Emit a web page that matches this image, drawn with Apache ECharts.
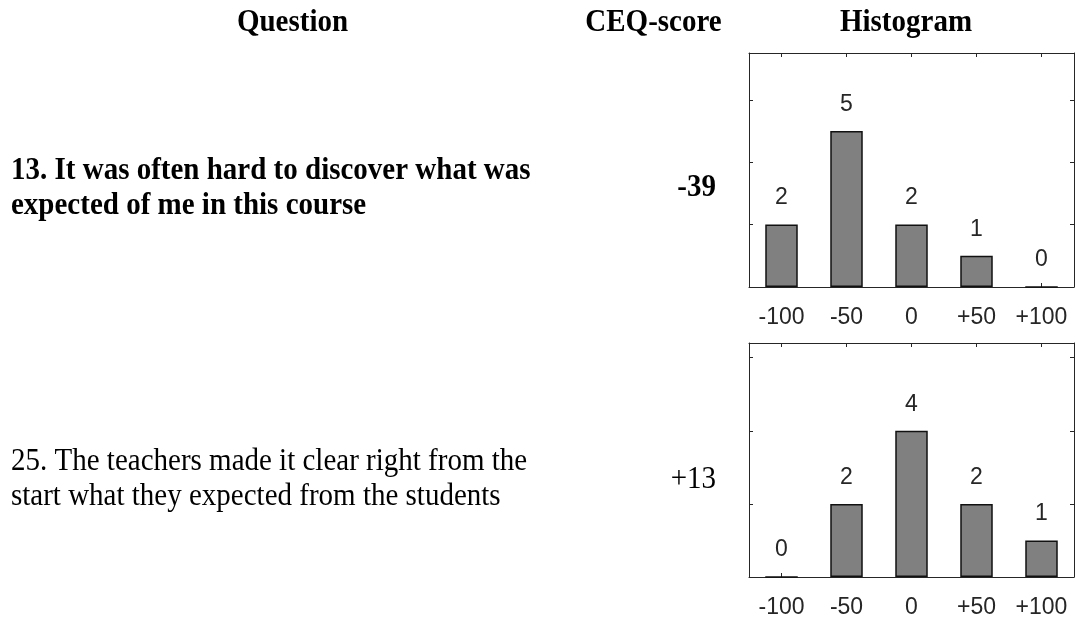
<!DOCTYPE html>
<html>
<head>
<meta charset="utf-8">
<script src="https://cdn.jsdelivr.net/npm/echarts@6/dist/echarts.min.js"></script>
<style>
  html, body { margin: 0; padding: 0; background: #ffffff; }
  #chart { width: 1075px; height: 624px; }
</style>
</head>
<body>
<div id="chart"></div>
<script>
// ---- data ----
const headers = ['Question', 'CEQ-score', 'Histogram'];
const categories = ['-100', '-50', '0', '+50', '+100'];
const q13Counts = [2, 5, 2, 1, 0];
const q25Counts = [0, 2, 4, 2, 1];
const q13Lines = ['13. It was often hard to discover what was', 'expected of me in this course'];
const q25Lines = ['25. The teachers made it clear right from the', 'start what they expected from the students'];
const ceqScores = ['-39', '+13'];
const yMaxes = [7.5, 6.4];
const yTickStep = 2;

// ---- layout / style ----
const axisColor = '#262626';
const serif = '"Liberation Serif", "Times New Roman", serif';
const sans = '"Liberation Sans", Arial, Helvetica, sans-serif';
const textStretch = 1.12;
const grids = [
  { left: 749, top: 53, width: 325, height: 234 },
  { left: 749, top: 343, width: 325, height: 234 }
];
const countsList = [q13Counts, q25Counts];
const questionLines = [q13Lines, q25Lines];
const questionBold = [true, false];
const lineYs = [[171, 206], [461, 496]];
const scoreYs = [188, 479];

const xAxes = [], yAxes = [], series = [];
grids.forEach((g, i) => {
  const lineStyle = { color: axisColor, width: 1 };
  xAxes.push({
    type: 'category', gridIndex: i, position: 'bottom', data: categories,
    boundaryGap: true,
    axisLine: { show: true, lineStyle },
    axisTick: { show: true, inside: true, length: 4, alignWithLabel: true, lineStyle },
    axisLabel: { show: true, interval: 0, margin: 19, fontSize: 23, fontFamily: sans, color: axisColor },
    splitLine: { show: false }
  });
  xAxes.push({
    type: 'category', gridIndex: i, position: 'top', data: categories,
    boundaryGap: true,
    axisLine: { show: true, onZero: false, lineStyle },
    axisTick: { show: true, inside: true, length: 4, alignWithLabel: true, lineStyle },
    axisLabel: { show: false },
    splitLine: { show: false }
  });
  yAxes.push({
    type: 'value', gridIndex: i, position: 'left', min: 0, max: yMaxes[i], interval: yTickStep,
    axisLine: { show: true, onZero: false, lineStyle },
    axisTick: { show: true, inside: true, length: 4, lineStyle },
    axisLabel: { show: false },
    splitLine: { show: false }
  });
  yAxes.push({
    type: 'value', gridIndex: i, position: 'right', min: 0, max: yMaxes[i], interval: yTickStep,
    axisLine: { show: true, onZero: false, lineStyle },
    axisTick: { show: true, inside: true, length: 4, lineStyle },
    axisLabel: { show: false },
    splitLine: { show: false }
  });
  series.push({
    type: 'bar', xAxisIndex: i * 2, yAxisIndex: i * 2, data: countsList[i],
    barWidth: '50%',
    itemStyle: { color: '#808080', borderColor: '#111111', borderWidth: 1.5 },
    label: { show: true, position: 'top', distance: 15, fontSize: 23, fontFamily: sans, color: axisColor },
    emphasis: { disabled: true },
    silent: true
  });
});

function serifText(text, x, y, bold, align) {
  return {
    type: 'text', x: x, y: y, scaleY: textStretch, silent: true,
    style: { text: text, x: 0, y: 0, font: (bold ? 'bold ' : '') + '29px ' + serif, fill: '#000',
      textAlign: align, textVerticalAlign: 'middle', align: align, verticalAlign: 'middle' }
  };
}

const graphics = [];
const headerXs = [292.5, 653.5, 906];
headers.forEach((h, k) => graphics.push(serifText(h, headerXs[k], 23, true, 'center')));
questionLines.forEach((lines, i) => {
  lines.forEach((ln, j) => graphics.push(serifText(ln, 11, lineYs[i][j], questionBold[i], 'left')));
  graphics.push(serifText(ceqScores[i], 716, scoreYs[i], questionBold[i], 'right'));
});

const chart = echarts.init(document.getElementById('chart'), null, { renderer: 'canvas' });
chart.setOption({
  animation: false,
  backgroundColor: '#ffffff',
  grid: grids.map(g => Object.assign({ containLabel: false }, g)),
  xAxis: xAxes,
  yAxis: yAxes,
  series: series,
  graphic: graphics
});
</script>
</body>
</html>
